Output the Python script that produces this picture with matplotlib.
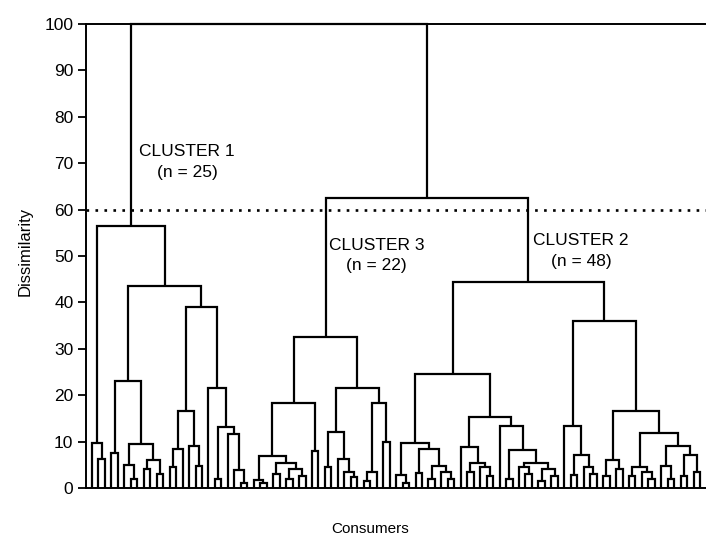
import matplotlib.pyplot as plt

plt.rcParams['font.family'] = ['Liberation Sans', 'DejaVu Sans']

# ------------------------------ Tree data -----------------------------------
# Merge heights: a node is [height, left, right], a leaf is 0

cluster1 = [56.5,
            [9.7, 0, [6.2, 0, 0]],
            [43.5,
             [23, [7.5, 0, 0], [9.5, [5, 0, [2, 0, 0]], [6, [4, 0, 0], [3, 0, 0]]]],
             [39,
              [16.6, [8.4, [4.5, 0, 0], 0], [9, 0, [4.7, 0, 0]]],
              [21.5, 0,
               [13.2, [2, 0, 0], [11.6, 0, [3.9, 0, [1, 0, 0]]]]]]]]

cluster3 = [32.5,
            [18.3,
             [6.9, [1.7, 0, [1, 0, 0]], [5.4, [3, 0, 0], [4, [2, 0, 0], [2.5, 0, 0]]]],
             [8, 0, 0]],
            [21.5,
             [12, [4.6, 0, 0], [6.2, 0, [3.5, 0, [2.4, 0, 0]]]],
             [18.3, [3.5, [1.5, 0, 0], 0], [10, 0, 0]]]]

cluster2 = [44.5,
            [24.6,
             [9.7, [2.8, 0, [1, 0, 0]],
              [8.4, [3.2, 0, 0], [4.7, [2, 0, 0], [3.5, 0, [2, 0, 0]]]]],
             [15.3,
              [8.8, 0, [5.4, [3.5, 0, 0], [4.5, 0, [2.5, 0, 0]]]],
              [13.3, 0, [8.2, [2, 0, 0],
                         [5.4, [4.5, 0, [3, 0, 0]], [4, [1.5, 0, 0], [2.5, 0, 0]]]]]]],
            [36,
             [13.3, 0, [7.1, [2.8, 0, 0], [4.5, 0, [3, 0, 0]]]],
             [16.6,
              [6, [2.5, 0, 0], [4, 0, 0]],
              [11.9,
               [4.5, [2.5, 0, 0], [3.5, 0, [2, 0, 0]]],
               [9, [4.7, 0, [2, 0, 0]], [7.1, [2.5, 0, 0], [3.5, 0, 0]]]]]]]

root_height = 100
join_23_height = 62.5
cut_height = 60

cluster_labels = ['CLUSTER 1\n(n = 25)', 'CLUSTER 3\n(n = 22)', 'CLUSTER 2\n(n = 48)']
label_x = [14.7, 44.0, 75.6]
label_y = [70.3, 50.1, 51.1]

tree = [root_height, cluster1, [join_23_height, cluster3, cluster2]]


# ------------------------------ Drawing -----------------------------------

def draw(node, ax, counter):
    # leaves get consecutive x positions, nodes sit over the middle of their children
    if node == 0:
        x = counter[0]
        counter[0] += 1
        return x, 0
    h, left, right = node
    xl, hl = draw(left, ax, counter)
    xr, hr = draw(right, ax, counter)
    ax.plot([xl, xl, xr, xr], [hl, h, h, hr], color='black', lw=1.6,
            solid_joinstyle='miter', solid_capstyle='butt', clip_on=False)
    return (xl + xr) / 2, h


fig = plt.figure(figsize=(7.06, 5.37), dpi=100)
ax = fig.add_axes([0.1218, 0.0912, 0.8782, 0.8641])

counter = [0]
draw(tree, ax, counter)
n_leaves = counter[0]

ax.axhline(cut_height, color='black', lw=1.9, linestyle=(0, (1, 2.4)))

for text, x, y in zip(cluster_labels, label_x, label_y):
    ax.text(x, y, text, ha='center', va='center', fontsize=12.5, linespacing=1.45)

ax.set_xlim(-0.93, n_leaves - 0.1)
ax.set_ylim(0, 100)
ax.set_yticks(range(0, 101, 10))
ax.set_xticks([])
ax.tick_params(axis='y', direction='out', length=6, width=1.3, labelsize=12.5, pad=3)
for side in ['left', 'bottom', 'top']:
    ax.spines[side].set_linewidth(1.4)
ax.spines['right'].set_visible(False)

ax.text(-0.098, 0.51, 'Dissimilarity', transform=ax.transAxes, rotation=90,
        ha='center', va='center', fontsize=12)
ax.text(0.458, -0.088, 'Consumers', transform=ax.transAxes, ha='center', va='center',
        fontsize=11)

fig.savefig('out.png', dpi=100)
